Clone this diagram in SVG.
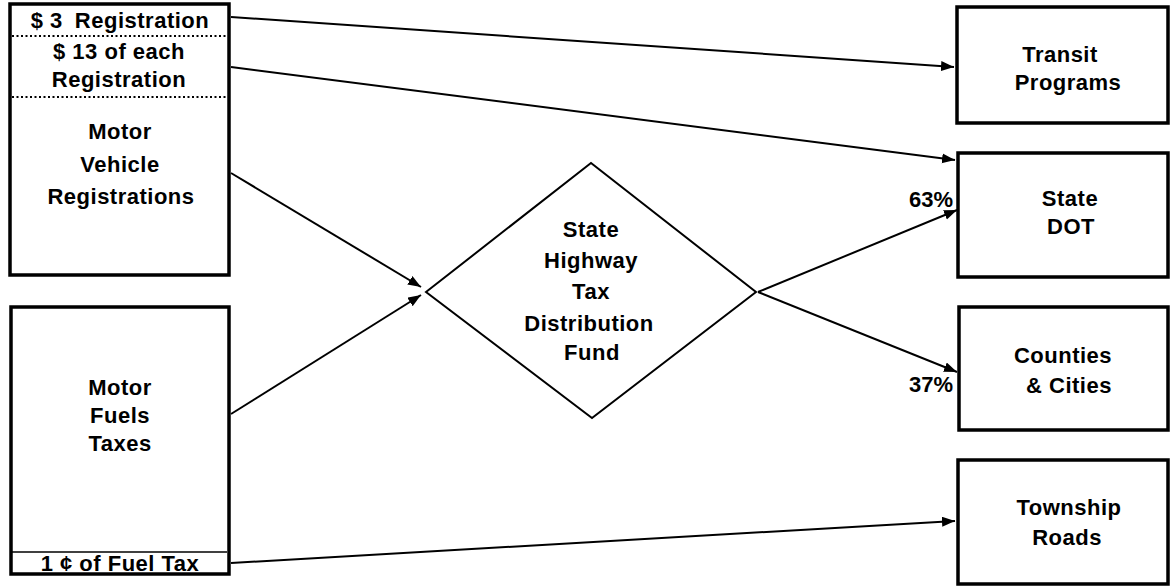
<svg xmlns="http://www.w3.org/2000/svg" width="1170" height="586" viewBox="0 0 1170 586">
<defs>
<marker id="arr" markerUnits="userSpaceOnUse" markerWidth="14" markerHeight="12" refX="13" refY="5" orient="auto">
<path d="M0,0 L13,5 L0,10 z" fill="#000"/>
</marker>
<style>
.box{fill:#fff;stroke:#000;stroke-width:3.5}
.t{font-family:"Liberation Sans",Arial,sans-serif;font-weight:bold;font-size:22px;letter-spacing:0.5px;fill:#000;text-anchor:middle}
.p{font-family:"Liberation Sans",Arial,sans-serif;font-weight:bold;font-size:22px;fill:#000;text-anchor:end}
.dot{stroke:#000;stroke-width:2;stroke-dasharray:2 2.5;fill:none}
.c{stroke:#000;stroke-width:2;fill:none;marker-end:url(#arr)}
</style>
</defs>
<rect width="1170" height="586" fill="#fff"/>

<g id="motor-vehicle-registrations">
<rect class="box" x="10" y="4" width="219" height="271"/>
<line class="dot" x1="12" y1="36" x2="227" y2="36"/>
<line class="dot" x1="12" y1="97" x2="227" y2="97"/>
<text class="t" x="120" y="28">$ 3<tspan dx="12">Registration</tspan></text>
<text class="t" x="119" y="59">$ 13 of each</text>
<text class="t" x="119" y="87">Registration</text>
<text class="t" x="120" y="139">Motor</text>
<text class="t" x="120" y="172">Vehicle</text>
<text class="t" x="121" y="204">Registrations</text>
</g>

<g id="motor-fuels-taxes">
<rect class="box" x="11" y="307" width="218" height="267"/>
<line x1="12" y1="552" x2="227" y2="552" stroke="#000" stroke-width="1.3"/>
<text class="t" x="120" y="395">Motor</text>
<text class="t" x="120" y="423">Fuels</text>
<text class="t" x="120" y="451">Taxes</text>
<text class="t" x="120" y="571">1 ¢ of Fuel Tax</text>
</g>

<g id="state-highway-fund">
<polygon points="426,292 591,163 756,292 592,418" fill="#fff" stroke="#000" stroke-width="2"/>
<text class="t" x="591" y="237">State</text>
<text class="t" x="591" y="268">Highway</text>
<text class="t" x="591" y="299">Tax</text>
<text class="t" x="589" y="331">Distribution</text>
<text class="t" x="592" y="360">Fund</text>
</g>

<g id="transit-programs">
<rect class="box" x="957" y="7" width="211" height="116"/>
<text class="t" x="1060" y="62">Transit</text>
<text class="t" x="1068" y="90">Programs</text>
</g>

<g id="state-dot">
<rect class="box" x="958" y="153" width="210" height="124"/>
<text class="t" x="1070" y="206">State</text>
<text class="t" x="1071" y="234">DOT</text>
</g>

<g id="counties-cities">
<rect class="box" x="959" y="307" width="209" height="123"/>
<text class="t" x="1063" y="363">Counties</text>
<text class="t" x="1069" y="393">&amp; Cities</text>
</g>

<g id="township-roads">
<rect class="box" x="958" y="460" width="210" height="124"/>
<text class="t" x="1069" y="515">Township</text>
<text class="t" x="1067" y="545">Roads</text>
</g>

<g id="connectors">
<line class="c" x1="231" y1="17" x2="954" y2="67"/>
<line class="c" x1="231" y1="67" x2="955" y2="160"/>
<line class="c" x1="231" y1="173" x2="421" y2="287"/>
<line class="c" x1="231" y1="414" x2="421" y2="295"/>
<line class="c" x1="758" y1="292" x2="957" y2="210"/>
<line class="c" x1="758" y1="292" x2="957" y2="372"/>
<line class="c" x1="231" y1="563" x2="955" y2="521"/>
<text class="p" x="953" y="207">63%</text>
<text class="p" x="953" y="392">37%</text>
</g>
</svg>
